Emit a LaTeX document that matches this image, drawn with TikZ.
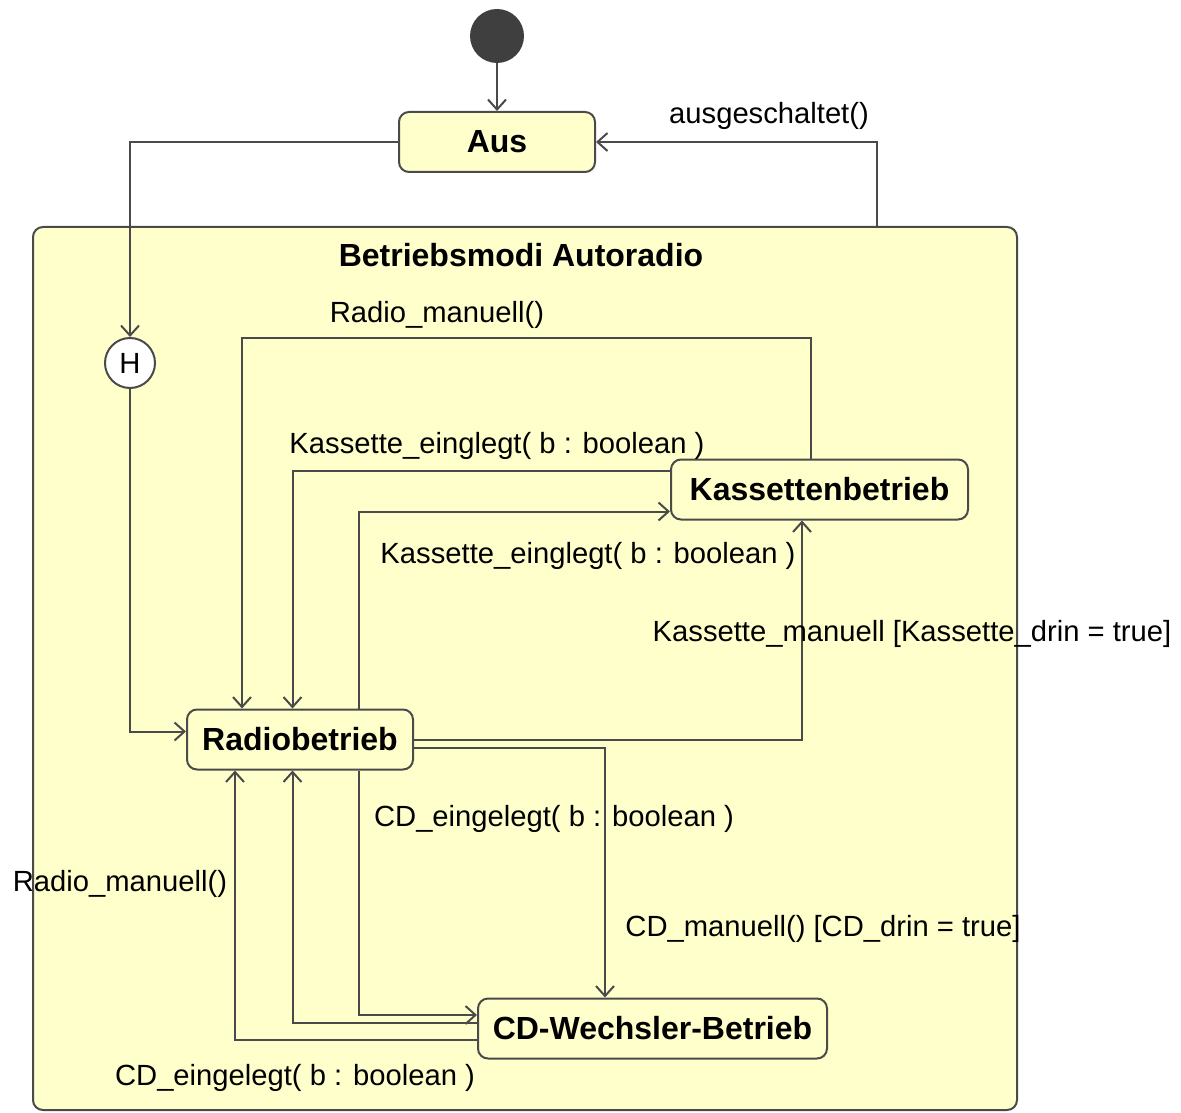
\documentclass[tikz,border=0pt]{standalone}
\usepackage{fontspec}
\setmainfont{Liberation Sans}
\usetikzlibrary{arrows.meta,positioning,calc}
\definecolor{statefill}{HTML}{FFFFCC}
\definecolor{lineclr}{HTML}{4A4A4A}

\begin{document}
\begin{tikzpicture}[x=0.5pt, y=-0.5pt, font=\fontsize{14.6}{18}\selectfont, >={Straight Barb[length=5pt,width=9pt]}]
\tikzstyle{state}=[draw=lineclr, fill=statefill, rounded corners=5pt, minimum height=30pt, inner sep=0pt, line width=1pt, font=\fontsize{16}{19}\selectfont\bfseries]
\tikzstyle{trans}=[->, draw=lineclr, line width=1pt]
\tikzstyle{lbl}=[inner sep=0pt]
\useasboundingbox (0,0) rectangle (1181,1112);
% composite state
\node[draw=lineclr, fill=statefill, rounded corners=5pt, line width=1pt, minimum width=492pt, minimum height=441.5pt] (modi) at (525,668.5) {};
\node[font=\fontsize{16}{19}\selectfont\bfseries] (modititle) at (521,255) {Betriebsmodi Autoradio};
% states
\node[circle, fill=lineclr!85!black, minimum size=27pt, inner sep=0pt] (start) at (497,36) {};
\node[state, minimum width=98pt] (aus) at (497,142) {Aus};
\node[circle, draw=lineclr, fill=white, line width=1pt, minimum size=25pt, inner sep=0pt] (hist) at (130,363) {H};
\node[state, minimum width=113pt] (radio) at (300,739.5) {Radiobetrieb};
\node[state, minimum width=148.5pt] (kass) at (819.5,489.5) {Kassettenbetrieb};
\node[state, minimum width=174.5pt] (cd) at (652.5,1028.5) {CD-Wechsler-Betrieb};
% transitions
\draw[trans] (start) -- (aus);
\draw[trans] ($(modi.north)+(352,0)$) |- (aus.east);
\draw[trans] (aus.west) -| (hist.north);
\draw[trans] (hist.south) |- ($(radio.west)+(0,-8)$);
\draw[trans] ($(kass.north)+(-8.5,0)$) -- ++(0,-121) -| ($(radio.north)+(-58,0)$);
\draw[trans] ($(kass.west)+(0,-18.5)$) -| ($(radio.north)+(-7.5,0)$);
\draw[trans] ($(radio.north)+(59,0)$) |- ($(kass.west)+(0,22)$);
\draw[trans] (radio.east) -| ($(kass.south)+(-17.5,0)$);
\draw[trans] ($(radio.east)+(0,8.5)$) -| ($(cd.north)+(-47.5,0)$);
\draw[trans] ($(radio.south)+(59,0)$) |- ($(cd.west)+(0,-13.5)$);
\draw[trans] ($(cd.west)+(0,-5.5)$) -| ($(radio.south)+(-7.5,0)$);
\draw[trans] ($(cd.west)+(0,11.5)$) -| ($(radio.south)+(-65,0)$);
% labels
\node[lbl] (lausg) at (769,116) {ausgeschaltet()};
\node[lbl] (lradio1) at (437,315) {Radio\_manuell()};
\node[lbl] (lkass1) at (497,446) {Kassette\_einglegt( b : boolean )};
\node[lbl] (lkass2) at (588,556) {Kassette\_einglegt( b : boolean )};
\node[lbl] (lkassman) at (912,634) {Kassette\_manuell [Kassette\_drin = true]};
\node[lbl] (lcd1) at (554,819) {CD\_eingelegt( b : boolean )};
\node[lbl] (lcdman) at (823,929) {CD\_manuell() [CD\_drin = true]};
\node[lbl] (lradio2) at (120,884) {Radio\_manuell()};
\node[lbl] (lcd2) at (295,1078) {CD\_eingelegt( b : boolean )};
\end{tikzpicture}
\end{document}
